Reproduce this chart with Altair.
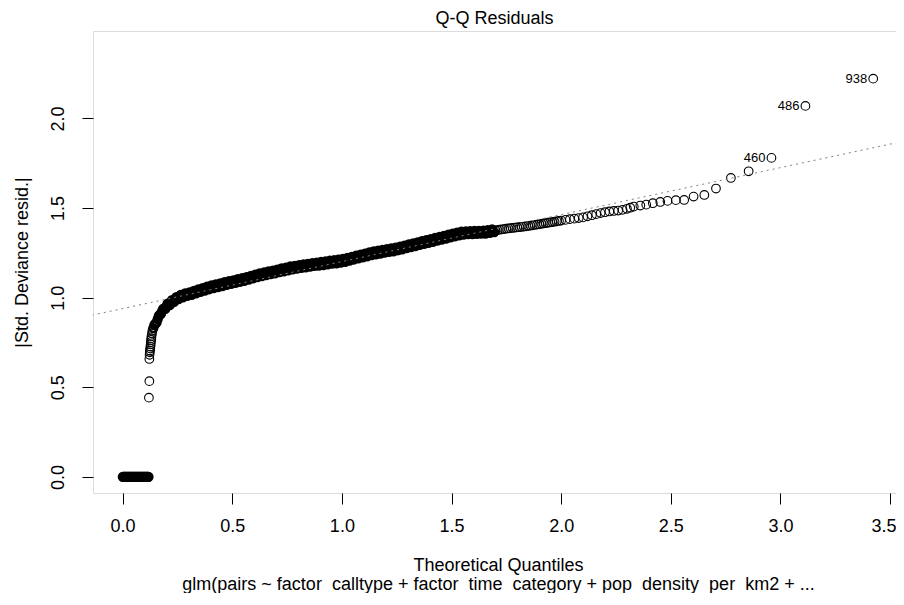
import altair as alt
import pandas as pd

FONT = "Liberation Sans"

# ---- data ----
# points with |residual| = 0 (left cluster)
zero_x = [0.001, 0.004, 0.006, 0.009, 0.011, 0.014, 0.016, 0.019, 0.021, 0.024,
          0.026, 0.029, 0.031, 0.034, 0.036, 0.039, 0.041, 0.044, 0.046, 0.049,
          0.051, 0.054, 0.056, 0.059, 0.061, 0.064, 0.066, 0.069, 0.071, 0.074,
          0.076, 0.079, 0.081, 0.084, 0.086, 0.089, 0.091, 0.094, 0.096, 0.099,
          0.101, 0.104, 0.106, 0.109, 0.111, 0.114, 0.116, 0.118]
zero_y = [0.0, 0.0, 0.0, 0.0, 0.0, 0.0, 0.0, 0.0, 0.0, 0.0,
          0.0, 0.0, 0.0, 0.0, 0.0, 0.0, 0.0, 0.0, 0.0, 0.0,
          0.0, 0.0, 0.0, 0.0, 0.0, 0.0, 0.0, 0.0, 0.0, 0.0,
          0.0, 0.0, 0.0, 0.0, 0.0, 0.0, 0.0, 0.0, 0.0, 0.0,
          0.0, 0.0, 0.0, 0.0, 0.0, 0.0, 0.0, 0.0]

# steep rise near x = 0.12
knee_x = [0.120, 0.122, 0.122, 0.123, 0.124, 0.125, 0.126, 0.127, 0.128, 0.129,
          0.130, 0.131, 0.132, 0.134, 0.136]
knee_y = [0.442, 0.534, 0.658, 0.681, 0.695, 0.705, 0.716, 0.727, 0.740, 0.752,
          0.764, 0.774, 0.786, 0.800, 0.815]

# dense band (solid black in the reference)
band_x = [0.140, 0.145, 0.150, 0.155, 0.160, 0.165, 0.170, 0.175, 0.180, 0.185,
          0.190, 0.195, 0.200, 0.205, 0.210, 0.215, 0.220, 0.225, 0.230, 0.235,
          0.240, 0.245, 0.250, 0.255, 0.260, 0.265, 0.270, 0.275, 0.280, 0.285,
          0.290, 0.295, 0.300, 0.305, 0.310, 0.315, 0.320, 0.325, 0.330, 0.335,
          0.340, 0.345, 0.350, 0.355, 0.360, 0.365, 0.370, 0.375, 0.380, 0.385,
          0.390, 0.395, 0.400, 0.405, 0.410, 0.415, 0.420, 0.425, 0.430, 0.435,
          0.440, 0.445, 0.450, 0.455, 0.460, 0.465, 0.470, 0.475, 0.480, 0.485,
          0.490, 0.495, 0.500, 0.505, 0.510, 0.515, 0.520, 0.525, 0.530, 0.535,
          0.540, 0.545, 0.550, 0.555, 0.560, 0.565, 0.570, 0.575, 0.580, 0.585,
          0.590, 0.595, 0.600, 0.605, 0.610, 0.615, 0.620, 0.625, 0.630, 0.635,
          0.640, 0.645, 0.650, 0.655, 0.660, 0.665, 0.670, 0.675, 0.680, 0.685,
          0.690, 0.695, 0.700, 0.705, 0.710, 0.715, 0.720, 0.725, 0.730, 0.735,
          0.740, 0.745, 0.750, 0.755, 0.760, 0.765, 0.770, 0.775, 0.780, 0.785,
          0.790, 0.795, 0.800, 0.805, 0.810, 0.815, 0.820, 0.825, 0.830, 0.835,
          0.840, 0.845, 0.850, 0.855, 0.860, 0.865, 0.870, 0.875, 0.880, 0.885,
          0.890, 0.895, 0.900, 0.905, 0.910, 0.915, 0.920, 0.925, 0.930, 0.935,
          0.940, 0.945, 0.950, 0.955, 0.960, 0.965, 0.970, 0.975, 0.980, 0.985,
          0.990, 0.995, 1.000, 1.005, 1.010, 1.015, 1.020, 1.025, 1.030, 1.035,
          1.040, 1.045, 1.050, 1.055, 1.060, 1.065, 1.070, 1.075, 1.080, 1.085,
          1.090, 1.095, 1.100, 1.105, 1.110, 1.115, 1.120, 1.125, 1.130, 1.135,
          1.140, 1.145, 1.150, 1.155, 1.160, 1.165, 1.170, 1.175, 1.180, 1.185,
          1.190, 1.195, 1.200, 1.205, 1.210, 1.215, 1.220, 1.225, 1.230, 1.235,
          1.240, 1.245, 1.250, 1.255, 1.260, 1.265, 1.270, 1.275, 1.280, 1.285,
          1.290, 1.295, 1.300, 1.305, 1.310, 1.315, 1.320, 1.325, 1.330, 1.335,
          1.340, 1.345, 1.350, 1.355, 1.360, 1.365, 1.370, 1.375, 1.380, 1.385,
          1.390, 1.395, 1.400, 1.405, 1.410, 1.415, 1.420, 1.425, 1.430, 1.435,
          1.440, 1.445, 1.450, 1.455, 1.460, 1.465, 1.470, 1.475, 1.480, 1.485,
          1.490, 1.495, 1.500, 1.505, 1.510, 1.515, 1.520, 1.525, 1.530, 1.535,
          1.540, 1.545, 1.550, 1.555, 1.560, 1.565, 1.570, 1.575, 1.580, 1.585,
          1.590, 1.595, 1.600, 1.605, 1.610, 1.615, 1.620, 1.625, 1.630, 1.635,
          1.640, 1.645, 1.650, 1.655, 1.660, 1.665, 1.670, 1.675, 1.680, 1.685,
          1.690, 1.695]
band_y = [0.830, 0.848, 0.855, 0.862, 0.880, 0.898, 0.905, 0.910, 0.925, 0.938,
          0.940, 0.937, 0.952, 0.966, 0.962, 0.958, 0.972, 0.986, 0.982, 0.977,
          0.990, 1.003, 0.998, 0.992, 1.004, 1.015, 1.008, 1.002, 1.013, 1.024,
          1.017, 1.010, 1.020, 1.030, 1.023, 1.016, 1.027, 1.038, 1.031, 1.024,
          1.035, 1.046, 1.039, 1.032, 1.042, 1.053, 1.046, 1.039, 1.050, 1.061,
          1.054, 1.047, 1.057, 1.068, 1.060, 1.053, 1.063, 1.074, 1.066, 1.059,
          1.069, 1.080, 1.072, 1.065, 1.076, 1.087, 1.079, 1.072, 1.082, 1.092,
          1.084, 1.077, 1.087, 1.097, 1.089, 1.082, 1.092, 1.103, 1.095, 1.088,
          1.098, 1.109, 1.101, 1.094, 1.104, 1.115, 1.108, 1.101, 1.111, 1.122,
          1.115, 1.108, 1.118, 1.129, 1.121, 1.114, 1.124, 1.135, 1.127, 1.120,
          1.130, 1.141, 1.133, 1.126, 1.136, 1.147, 1.139, 1.131, 1.141, 1.151,
          1.143, 1.136, 1.146, 1.157, 1.149, 1.142, 1.152, 1.163, 1.155, 1.147,
          1.157, 1.168, 1.160, 1.153, 1.163, 1.174, 1.166, 1.158, 1.168, 1.178,
          1.170, 1.162, 1.172, 1.182, 1.174, 1.166, 1.176, 1.186, 1.177, 1.169,
          1.179, 1.189, 1.181, 1.173, 1.183, 1.193, 1.185, 1.177, 1.186, 1.196,
          1.187, 1.179, 1.189, 1.199, 1.190, 1.182, 1.192, 1.202, 1.194, 1.186,
          1.196, 1.206, 1.198, 1.190, 1.199, 1.209, 1.200, 1.192, 1.202, 1.212,
          1.204, 1.196, 1.206, 1.216, 1.208, 1.200, 1.211, 1.222, 1.214, 1.207,
          1.217, 1.228, 1.220, 1.213, 1.223, 1.234, 1.226, 1.219, 1.229, 1.240,
          1.232, 1.225, 1.235, 1.246, 1.238, 1.231, 1.241, 1.252, 1.244, 1.237,
          1.247, 1.258, 1.250, 1.242, 1.252, 1.262, 1.254, 1.246, 1.256, 1.266,
          1.258, 1.251, 1.261, 1.271, 1.263, 1.255, 1.265, 1.275, 1.267, 1.259,
          1.269, 1.279, 1.271, 1.264, 1.274, 1.285, 1.277, 1.270, 1.280, 1.291,
          1.283, 1.276, 1.286, 1.297, 1.289, 1.282, 1.292, 1.303, 1.295, 1.288,
          1.298, 1.309, 1.301, 1.294, 1.304, 1.315, 1.307, 1.300, 1.310, 1.321,
          1.313, 1.306, 1.316, 1.327, 1.319, 1.312, 1.322, 1.333, 1.325, 1.318,
          1.328, 1.339, 1.331, 1.324, 1.334, 1.345, 1.337, 1.330, 1.340, 1.351,
          1.343, 1.336, 1.346, 1.357, 1.349, 1.342, 1.352, 1.363, 1.355, 1.348,
          1.358, 1.368, 1.360, 1.352, 1.361, 1.370, 1.362, 1.354, 1.362, 1.371,
          1.363, 1.355, 1.363, 1.372, 1.364, 1.356, 1.364, 1.373, 1.365, 1.357,
          1.365, 1.374, 1.366, 1.358, 1.367, 1.377, 1.369, 1.361, 1.371, 1.381,
          1.373, 1.366]

# upper part of the band, where single rings start to show
upper_x = [1.70, 1.71, 1.72, 1.73, 1.74, 1.75, 1.76, 1.77, 1.78, 1.79,
           1.80, 1.81, 1.82, 1.83, 1.84, 1.85, 1.86, 1.87, 1.88, 1.89,
           1.90, 1.91, 1.92, 1.93, 1.94, 1.95, 1.96, 1.97, 1.98, 1.99, 2.00,
           2.02, 2.04, 2.06, 2.08, 2.10, 2.12, 2.14, 2.16, 2.18, 2.20,
           2.22, 2.24, 2.26, 2.28, 2.30, 2.315]
upper_y = [1.375, 1.377, 1.379, 1.381, 1.383, 1.385, 1.386, 1.388, 1.389, 1.391,
           1.392, 1.393, 1.395, 1.397, 1.398, 1.400, 1.402, 1.404, 1.406, 1.408,
           1.410, 1.412, 1.414, 1.416, 1.418, 1.420, 1.422, 1.424, 1.426, 1.428, 1.430,
           1.434, 1.438, 1.441, 1.444, 1.448, 1.454, 1.460, 1.466, 1.472, 1.477,
           1.481, 1.484, 1.486, 1.490, 1.496, 1.502]

# sparse upper tail
tail_x = [2.331, 2.361, 2.388, 2.418, 2.452, 2.485, 2.523, 2.561, 2.604, 2.653,
          2.706, 2.774, 2.855, 2.959, 3.114, 3.423]
tail_y = [1.508, 1.514, 1.519, 1.527, 1.534, 1.540, 1.544, 1.545, 1.564, 1.573,
          1.609, 1.668, 1.705, 1.780, 2.070, 2.222]

# labelled observations
label_text = ["938", "486", "460"]
label_x = [3.423, 3.114, 2.959]
label_y = [2.222, 2.070, 1.780]

# Q-Q reference line
line_intercept = 0.939
line_slope = 0.2622

x_ticks = [0.0, 0.5, 1.0, 1.5, 2.0, 2.5, 3.0, 3.5]
y_ticks = [0.0, 0.5, 1.0, 1.5, 2.0]

# ---- build tables ----
dense = pd.DataFrame({"q": zero_x + band_x, "r": zero_y + band_y})
sparse = pd.DataFrame({"q": knee_x + upper_x + tail_x,
                       "r": knee_y + upper_y + tail_y})
labs = pd.DataFrame({"q": label_x, "r": label_y, "t": label_text})
line_ends = [-0.3, 3.8]
ref = pd.DataFrame({"q": line_ends,
                    "r": [line_intercept + line_slope * v for v in line_ends]})

xscale = alt.Scale(domain=[-0.135, 3.527], nice=False, zero=False)
yscale = alt.Scale(domain=[-0.09, 2.488], nice=False, zero=False)

xaxis = alt.Axis(
    values=x_ticks, format=".1f", domain=False, grid=False,
    tickSize=11, tickColor="black", tickWidth=1,
    labelFont=FONT, labelFontSize=18, labelColor="black",
    labelPadding=13, labelBaseline="top",
    labelFlush=8, labelFlushOffset=6,
    title=["Theoretical Quantiles",
           "glm(pairs ~ factor_calltype + factor_time_category + pop_density_per_km2 +  ..."],
    titleFont=FONT, titleFontSize=18, titleFontWeight="normal", titleColor="black",
    titleX=405, titleY=63, titleAlign="center", titleBaseline="top",
    titleLineHeight=19,
)
yaxis = alt.Axis(
    values=y_ticks, format=".1f", domain=False, grid=False,
    tickSize=11, tickColor="black", tickWidth=1,
    labelFont=FONT, labelFontSize=18, labelColor="black",
    labelAngle=270, labelAlign="center", labelBaseline="bottom",
    labelPadding=15, labelFlush=False,
    title="|Std. Deviance resid.|",
    titleFont=FONT, titleFontSize=18, titleFontWeight="normal", titleColor="black",
    titleAngle=270, titleX=-71, titleY=231, titleAlign="center",
    titleBaseline="middle",
)

dense_pts = alt.Chart(dense).mark_point(
    shape="circle", filled=False, size=62, strokeWidth=2.4,
    color="black", opacity=1,
).encode(
    x=alt.X("q:Q", scale=xscale, axis=xaxis),
    y=alt.Y("r:Q", scale=yscale, axis=yaxis),
)

sparse_pts = alt.Chart(sparse).mark_point(
    shape="circle", filled=False, size=75, strokeWidth=1.1,
    color="black", opacity=1,
).encode(x="q:Q", y="r:Q")

refline = alt.Chart(ref).mark_line(
    clip=True, color="#808080", strokeWidth=1, strokeDash=[2, 4],
).encode(x="q:Q", y="r:Q")

labels = alt.Chart(labs).mark_text(
    align="right", baseline="middle", dx=-6, font=FONT, fontSize=13,
    color="black",
).encode(x="q:Q", y="r:Q", text="t:N")

chart = alt.layer(dense_pts, sparse_pts, refline, labels).properties(
    width=803, height=462,
    autosize="none",
    padding={"left": 85, "top": 23, "right": 0, "bottom": 100},
    title=alt.TitleParams("Q-Q Residuals", font=FONT, fontSize=18,
                          fontWeight="normal", color="black",
                          anchor="middle", offset=3),
).configure_view(
    stroke="black", strokeWidth=1, fill="white",
).configure(background="white")

chart.save("out.html", embed_options={"renderer": "svg", "actions": False})
